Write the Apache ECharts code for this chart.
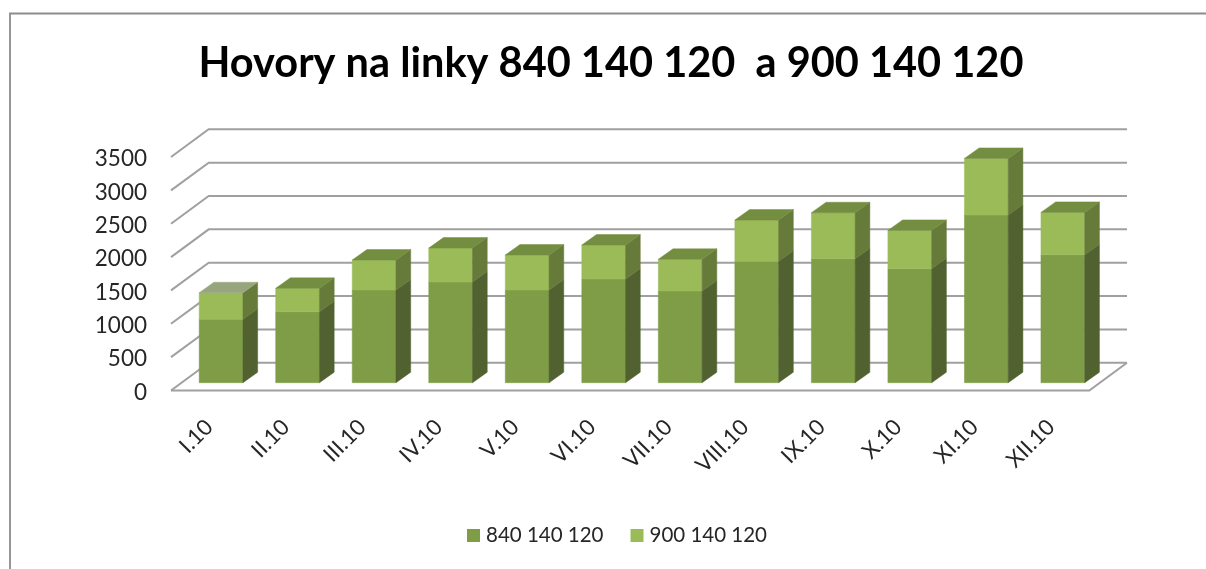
<!DOCTYPE html>
<html><head><meta charset="utf-8">
<style>html,body{margin:0;padding:0;background:#fff}#c{width:1206px;height:569px}</style>
<script src="https://cdn.jsdelivr.net/npm/echarts@6/dist/echarts.min.js"></script>
</head><body><div id="c"></div>
<script>
var categories = ['I.10','II.10','III.10','IV.10','V.10','VI.10','VII.10','VIII.10','IX.10','X.10','XI.10','XII.10'];
var line840 = [950,1064,1389,1508,1389,1553,1374,1819,1858,1708,2512,1917];
var line900 = [398,350,449,510,524,510,475,618,689,575,850,636];
var ticks = [0,500,1000,1500,2000,2500,3000,3500];

var DX = 37.7, DY = 27.7, BDX = 14.7, BDY = 10.5, OFFX = 11.8, OFFY = 7.8, BARW = 0.572;
var GRID = '#a0a0a0';

function poly(pts, fill, z2) {
  return {type:'polygon', shape:{points:pts}, z2:z2||0, style:{fill:fill, stroke:fill, lineWidth:0.5}};
}
function wall(params, api) {
  var v = api.value(1), p = api.coord([0, v]), w = api.size([1,0])[0];
  var fl = p[0] - w/2, fr = fl + w*categories.length, y = p[1];
  var ch = [{type:'polyline', shape:{points:[[fl,y],[fl+DX,y-DY],[fr+DX,y-DY]]}, style:{fill:null, stroke:GRID, lineWidth:2}}];
  if (v === 0) ch.push({type:'polyline', shape:{points:[[fl,y],[fr,y],[fr+DX,y-DY]]}, style:{fill:null, stroke:GRID, lineWidth:2}});
  return {type:'group', children:ch};
}
function bar(front, side, top) {
  return function(params, api) {
    var i = api.value(0), a = api.coord([i, api.value(1)]), b = api.coord([i, api.value(2)]);
    var w = api.size([1,0])[0]*BARW, l = a[0]-w/2+OFFX, r = l+w, y0 = a[1]-OFFY, y1 = b[1]-OFFY;
    var ch = [
      poly([[l,y0],[r,y0],[r,y1],[l,y1]], front),
      poly([[r,y0],[r+BDX,y0-BDY],[r+BDX,y1-BDY],[r,y1]], side)
    ];
    if (top) ch.push(poly([[l,y1],[r,y1],[r+BDX,y1-BDY],[l+BDX,y1-BDY]], i === 0 ? '#98a67f' : top));
    return {type:'group', children:ch};
  };
}
var chart = echarts.init(document.getElementById('c'), null, {renderer:'canvas'});
var font = 'Lato';
chart.setOption({
  animation:false,
  backgroundColor:'#fff',
  title:{text:'Hovory na linky 840 140 120  a 900 140 120', left:606, top:38, textAlign:'center',
    textStyle:{fontFamily:font, fontWeight:'bold', fontSize:41.5, color:'#000'}},
  legend:{left:467, top:525, padding:0, itemWidth:13, itemHeight:13, itemGap:27, icon:'rect',
    data:['840 140 120','900 140 120'],
    textStyle:{fontFamily:font, fontSize:20.5, color:'#262626', padding:[0,0,0,1]}},
  grid:{left:171, top:157, width:918.3, height:233.5},
  xAxis:{type:'category', data:categories, axisLine:{show:false}, axisTick:{show:false}, splitLine:{show:false},
    axisLabel:{interval:0, rotate:45, margin:33, fontFamily:font, fontSize:22, color:'#262626'}},
  yAxis:{type:'value', min:0, max:3500, interval:500, axisLine:{show:false}, axisTick:{show:false}, splitLine:{show:false},
    axisLabel:{margin:24, formatter:function(v){return '{n|' + v + '}';},
      rich:{n:{fontFamily:font, fontSize:22.5, color:'#262626', padding:[4,0,0,0]}}}},
  series:[
    {type:'custom', silent:true, clip:false, z:1, renderItem:wall, encode:{x:0,y:1},
      data:ticks.map(function(t){return [0,t];})},
    {type:'custom', name:'840 140 120', clip:false, z:2, renderItem:bar('#7f9c47','#516230'),
      itemStyle:{color:'#7f9c47'}, encode:{x:0,y:2},
      data:line840.map(function(v,i){return [i,0,v];})},
    {type:'custom', name:'900 140 120', clip:false, z:3, renderItem:bar('#9bbb59','#667a3a','#748e41'),
      itemStyle:{color:'#9bbb59'}, encode:{x:0,y:2},
      data:line900.map(function(v,i){return [i,line840[i],line840[i]+v];})}
  ],
  graphic:[{type:'polyline', silent:true, shape:{points:[[10,569],[10,13.5],[1206,13.5]]},
    style:{fill:null, stroke:'#8c8c8c', lineWidth:1.8}}]
});
</script></body></html>
